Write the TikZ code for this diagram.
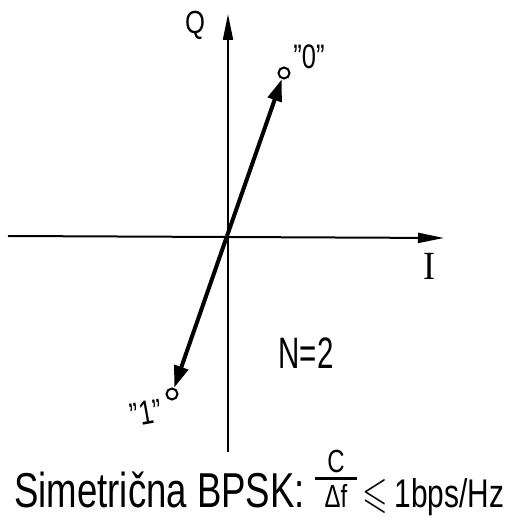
\documentclass[tikz,border=0pt]{standalone}
\usepackage{amssymb}
\usepackage{fontspec}
\setmainfont{Liberation Sans}
\newfontfamily\serifI{Liberation Serif}
\usetikzlibrary{arrows.meta}
\tikzset{
  axis/.style={line width=2pt,-{Triangle[length=26pt,width=10pt]}},
  vec/.style={line width=4pt,-{Triangle[length=22pt,width=14pt]}},
  pt/.style={circle,draw,line width=2pt,minimum size=11pt,inner sep=0pt,fill=white},
  lbl/.style={inner sep=0pt}
}
\newcommand{\qq}{\char34\relax}
\newcommand{\myfrac}{\vbox{\fontsize{32}{34}\selectfont
  \hbox to 56pt{\hss C\hss}\kern4pt\hrule height 3pt\kern4pt\hbox to 56pt{\hss Δf\hss}}}
\newcommand{\captxt}{\fontsize{49}{52}\selectfont
  Simetrična BPSK: \myfrac\,{\fontsize{20}{24}\selectfont\scalebox{2.2}{$\leqslant$}}\,{\fontsize{40}{44}\selectfont 1bps/Hz}}
\begin{document}
\begin{tikzpicture}[x=1pt,y=-1pt]
\useasboundingbox (0,0) rectangle (522,518);
\coordinate (O) at (227,236);
\coordinate (qb) at (228,452);
\coordinate (qt) at (228,14);
\coordinate (il) at (8,236);
\coordinate (ir) at (444,238);
\draw[axis] (qb) -- (qt);
\draw[axis] (il) -- (ir);
\node[pt] (p0) at (284,73) {};
\node[pt] (p1) at (172,394) {};
\draw[vec] (O) -- (p0);
\draw[vec] (O) -- (p1);
\node[lbl] (Q) at (195,25) {\scalebox{0.8}[1]{\fontsize{32}{34}\selectfont Q}};
\node[lbl] (l0) at (309,57) {\scalebox{0.75}[1]{\fontsize{34}{36}\selectfont \qq 0\qq}};
\node[lbl,rotate=10] (l1) at (146,413) {\scalebox{0.75}[1]{\fontsize{34}{36}\selectfont \qq 1\qq}};
\node[lbl] (I) at (429,266) {\scalebox{0.9}[1]{\fontsize{40}{42}\selectfont\serifI I}};
\node[lbl] (N) at (306,353) {\scalebox{0.67}[1]{\fontsize{44}{46}\selectfont N=2}};
\node[lbl,anchor=base west] (cap) at (14,507) {\resizebox{490pt}{\height}{\captxt}};
\end{tikzpicture}
\end{document}
